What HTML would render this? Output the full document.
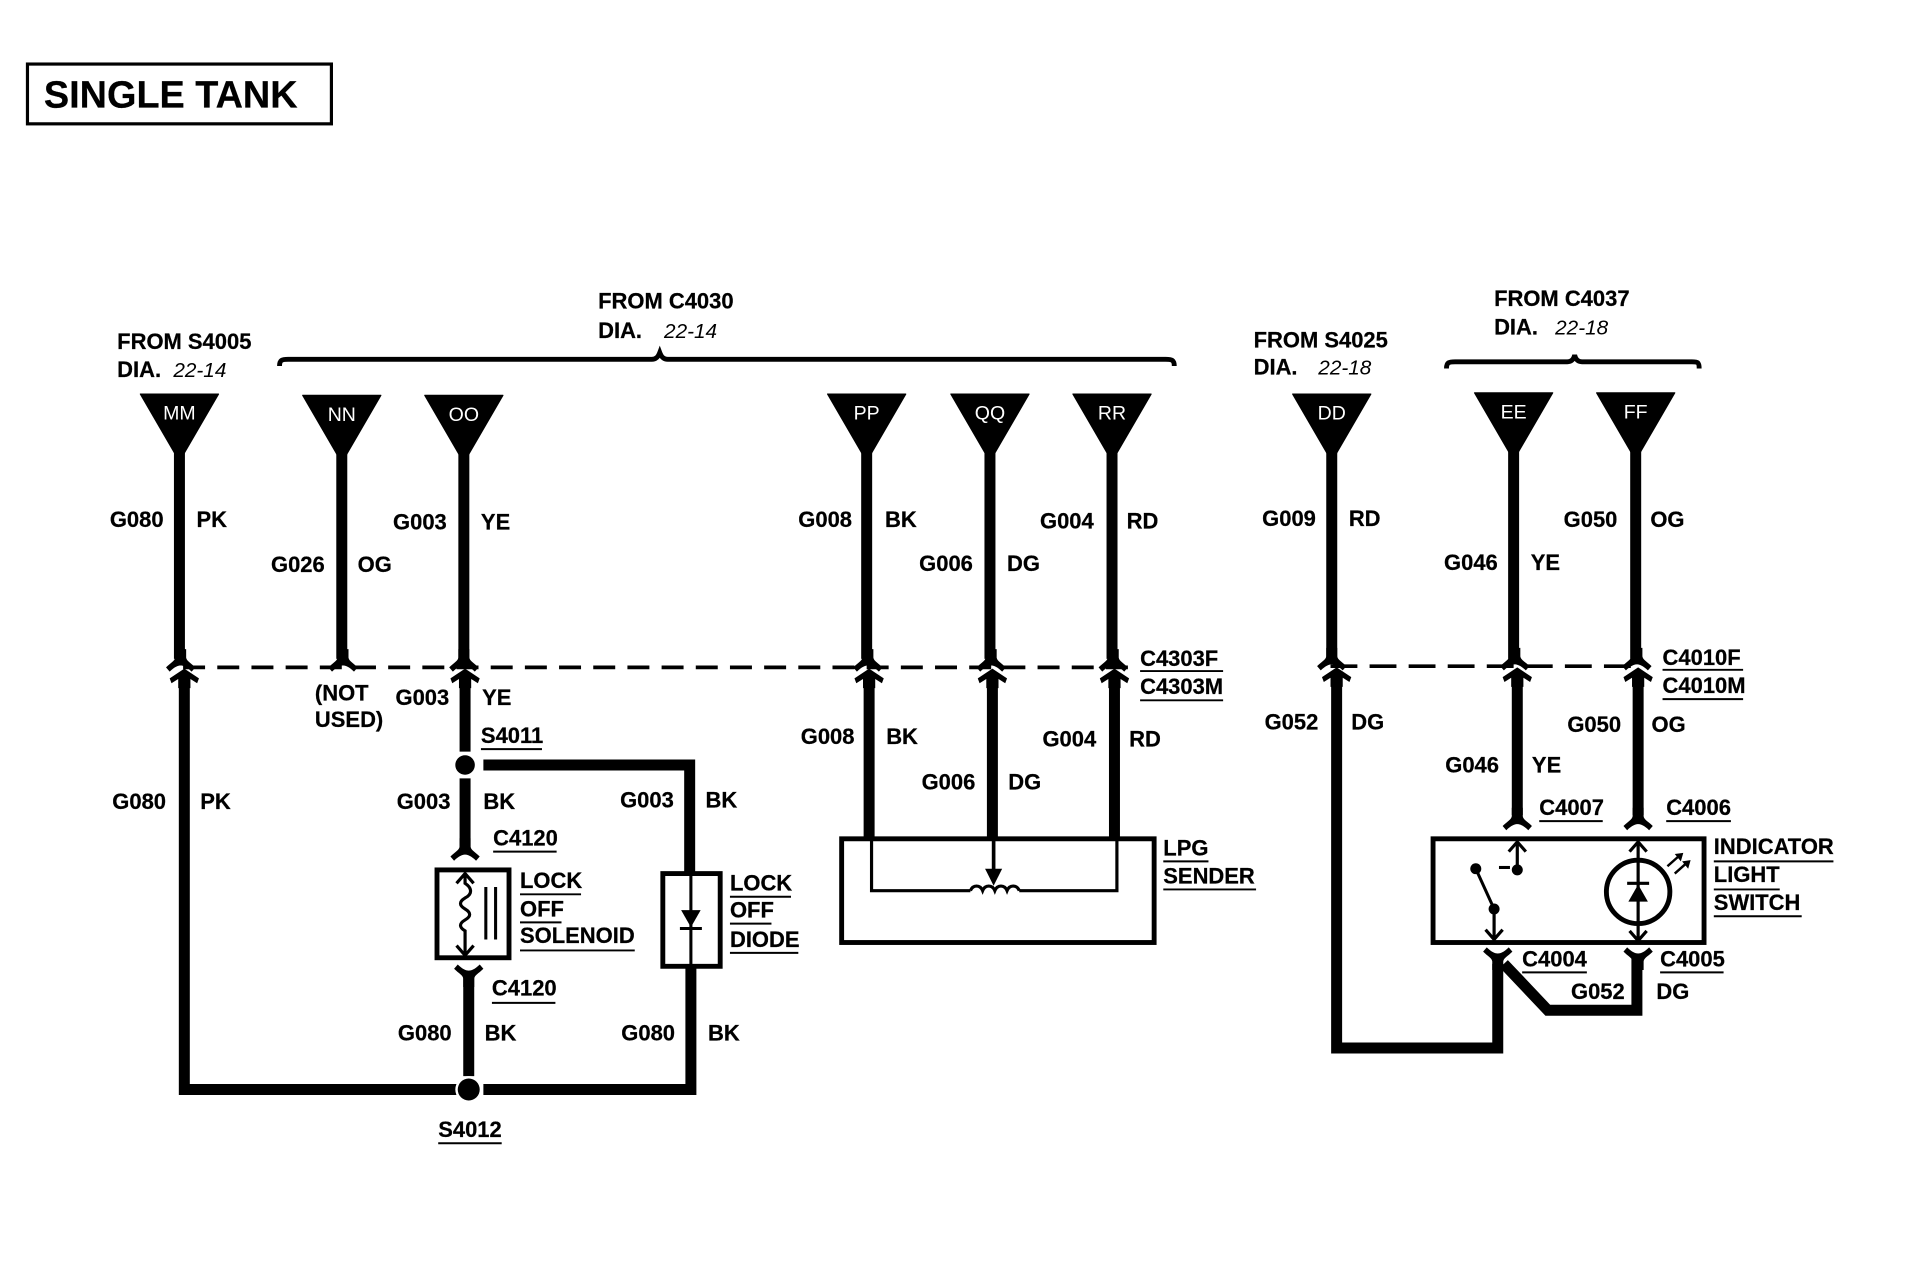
<!DOCTYPE html>
<html><head><meta charset="utf-8"><style>
html,body{margin:0;padding:0;background:#fff;width:1914px;height:1264px;overflow:hidden}
svg{display:block}
text{font-family:"Liberation Sans",sans-serif;font-weight:700;font-size:18px;fill:#000;stroke:#000;stroke-width:.2}
.i{font-style:italic;font-weight:400;font-size:17px;stroke:none}
.w{fill:#fff;stroke:none;font-weight:400;font-size:16px;text-anchor:middle}
.t{font-size:31px}
.wire{fill:none;stroke:#000;stroke-width:9;stroke-linejoin:miter}
.thin{fill:none;stroke:#000;stroke-width:2.6}
.u{fill:none;stroke:#000;stroke-width:1.6}
.box{fill:#fff;stroke:#000;stroke-width:4}
</style></head><body>
<svg width="1914" height="1264" viewBox="0 0 1568 1036" preserveAspectRatio="none" xmlns="http://www.w3.org/2000/svg">
<defs>
<path id="tri" d="M-32,0 H32 L3,50 H-3Z" fill="#000" stroke="#000" stroke-width="1" stroke-linejoin="round"/>
<path id="fork" d="M-4.5,-12 V-5 C-5,-2 -8,-1 -12,3 L-9,6.500 C-5,2.500 -2,1.500 0,1.500 C2,1.500 5,2.500 9,6.500 L12,3 C8,-1 5,-2 4.500,-5 V-12Z" fill="#000"/>
<path id="head" d="M0,-4 L12,4 L10.500,8 L5,4.500 V12 H-5 V4.500 L-10.500,8 L-12,4Z" fill="#000"/>
</defs>
<!-- title -->
<rect x="22.5" y="52.5" width="249" height="49" fill="none" stroke="#000" stroke-width="2.6"/>
<text class="t" x="36" y="88">SINGLE TANK</text>
<!-- braces -->
<path d="M229,300 C229,295 231,294.5 236,294.5 H534 C537,294.5 539,293 540.500,289 C542,293 544,294.5 547,294.5 H955 C960,294.500 962,295 962,300" fill="none" stroke="#000" stroke-width="4"/>
<path d="M1185,302 C1185,297 1187,296.500 1192,296.500 H1284 C1287,296.500 1289,295 1290,291 C1291,295 1293,296.500 1296,296.500 H1386 C1391,296.500 1392,297 1392,302" fill="none" stroke="#000" stroke-width="4"/>
<!-- triangles -->
<use href="#tri" x="147" y="323"/><use href="#tri" x="280" y="324"/><use href="#tri" x="380" y="324"/>
<use href="#tri" x="710" y="323"/><use href="#tri" x="811" y="323"/><use href="#tri" x="911" y="323"/>
<use href="#tri" x="1091" y="323"/><use href="#tri" x="1240" y="322"/><use href="#tri" x="1340" y="322"/>
<text class="w" x="147" y="344">MM</text><text class="w" x="280" y="345">NN</text><text class="w" x="380" y="345">OO</text>
<text class="w" x="710" y="344">PP</text><text class="w" x="811" y="344">QQ</text><text class="w" x="911" y="344">RR</text>
<text class="w" x="1091" y="344">DD</text><text class="w" x="1240" y="343">EE</text><text class="w" x="1340" y="343">FF</text>
<!-- dashed -->
<path d="M150,547 H930" stroke="#000" stroke-width="3" stroke-dasharray="18 10" fill="none"/>
<path d="M1090,546 H1345" stroke="#000" stroke-width="3" stroke-dasharray="22 10" fill="none"/>
<!-- upper wires -->
<g class="wire">
<path d="M147,370 V540"/><path d="M280,370 V540"/><path d="M380,370 V540"/>
<path d="M710,370 V540"/><path d="M811,370 V540"/><path d="M911,370 V540"/>
<path d="M1091,370 V540"/><path d="M1240,370 V540"/><path d="M1340,370 V540"/>
</g>
<use href="#fork" x="148" y="544"/><use href="#fork" x="281" y="544"/><use href="#fork" x="380" y="544"/>
<use href="#fork" x="711" y="544"/><use href="#fork" x="812" y="544"/><use href="#fork" x="912" y="544"/>
<use href="#fork" x="1091" y="543"/><use href="#fork" x="1241" y="543"/><use href="#fork" x="1341" y="543"/>
<use href="#head" x="151" y="552"/><use href="#head" x="381" y="552"/>
<use href="#head" x="712" y="552"/><use href="#head" x="813" y="552"/><use href="#head" x="913" y="552"/>
<use href="#head" x="1095" y="551"/><use href="#head" x="1243" y="551"/><use href="#head" x="1342" y="551"/>
<!-- lower left circuit -->
<g class="wire">
<path d="M151,558 V893 H375"/><path d="M396,893 H566 V790"/>
<path d="M381,558 V616"/><path d="M381,638 V695"/>
<path d="M396,627 H565 V718"/>
<path d="M384,800 V882"/>
<path d="M712,558 V688"/><path d="M813,558 V688"/><path d="M913,558 V688"/>
<path d="M1095,558 V859 H1227 V790"/>
<path d="M1232,790 L1268,828 H1341 V785"/>
<path d="M1243,558 V668"/><path d="M1342,558 V668"/>
</g>
<circle cx="381" cy="627" r="8" fill="#000"/>
<circle cx="384" cy="893" r="11" fill="#fff"/><circle cx="384" cy="893" r="9" fill="#000"/>
<use href="#fork" x="381" y="699"/>
<path d="M-4.500,12 V5 C-5,2 -8,1 -12,-3 L-9,-6.500 C-5,-2.500 -2,-1.500 0,-1.500 C2,-1.500 5,-2.500 9,-6.500 L12,-3 C8,1 5,2 4.500,5 V12Z" transform="translate(384,797)" fill="#000"/>
<!-- solenoid -->
<rect class="box" x="358" y="713" width="59" height="72" stroke-width="4.500"/>
<path class="thin" d="M381,716 V724 C387,728 387,733 381,736 C376,739 376,742 381,745 C386,748 386,751 381,754 C376,757 376,760 381,763 V783"/>
<path class="thin" d="M374,724 L381,716 L388,724 M374,775 L381,783 L388,775"/>
<path d="M398,727 V770 M406,727 V770" stroke="#000" stroke-width="2.500"/>
<!-- diode -->
<rect class="box" x="543" y="716" width="47" height="76"/>
<path d="M566,716 V792" stroke="#000" stroke-width="2.500"/>
<path d="M558,746 H574 L566,760Z" fill="#000"/>
<path d="M557,761 H575" stroke="#000" stroke-width="2.500"/>
<!-- LPG -->
<rect class="box" x="689.500" y="687.500" width="256" height="85"/>
<path class="thin" d="M714,689 V730 H795 M835,730 H915 V689"/>
<path class="thin" d="M795,730 C797,725 803,725 805,730 C807,725 813,725 815,730 C817,725 823,725 825,730 C827,725 833,725 835,730"/>
<path d="M814,689 V716" stroke="#000" stroke-width="3"/>
<path d="M807,712 H821 L814,726Z" fill="#000"/>
<!-- indicator -->
<rect class="box" x="1174" y="687.500" width="222" height="85"/>
<path class="thin" d="M1243,690 V713 M1236,698 L1243,690 L1250,698"/>
<circle cx="1243" cy="713" r="4.500" fill="#000"/>
<path d="M1228,711 H1237" stroke="#000" stroke-width="2.500"/>
<circle cx="1209" cy="712" r="4.500" fill="#000"/>
<path d="M1209,712 L1224,745" stroke="#000" stroke-width="2.500"/>
<circle cx="1224" cy="745" r="4.500" fill="#000"/>
<path class="thin" d="M1224,745 V770 M1217,762 L1224,770 L1231,762"/>
<circle cx="1342" cy="731" r="26" fill="none" stroke="#000" stroke-width="4"/>
<path class="thin" d="M1342,690 V771 M1335,698 L1342,690 L1349,698 M1335,763 L1342,771 L1349,763"/>
<path d="M1334,739 H1350 L1342,725Z" fill="#000"/><path d="M1333,724 H1351" stroke="#000" stroke-width="2.500"/>
<path d="M1366,710 L1375,702 M1372,716 L1381,708" stroke="#000" stroke-width="2"/>
<path d="M1372,700 L1379,699 L1377,706Z M1378,706 L1385,705 L1383,712Z" fill="#000"/>
<use href="#fork" x="1243" y="674"/><use href="#fork" x="1342" y="674"/>
<path d="M-4.500,12 V5 C-5,2 -8,1 -12,-3 L-9,-6.500 C-5,-2.500 -2,-1.500 0,-1.500 C2,-1.500 5,-2.500 9,-6.500 L12,-3 C8,1 5,2 4.500,5 V12Z" transform="translate(1227,783)" fill="#000"/>
<path d="M-4.500,12 V5 C-5,2 -8,1 -12,-3 L-9,-6.500 C-5,-2.500 -2,-1.500 0,-1.500 C2,-1.500 5,-2.500 9,-6.500 L12,-3 C8,1 5,2 4.500,5 V12Z" transform="translate(1342,783)" fill="#000"/>
<!-- labels -->
<text x="96" y="286">FROM S4005</text><text x="96" y="309">DIA.</text><text class="i" x="142" y="309">22-14</text>
<text x="490" y="253">FROM C4030</text><text x="490" y="277">DIA.</text><text class="i" x="544" y="277">22-14</text>
<text x="1027" y="285">FROM S4025</text><text x="1027" y="307">DIA.</text><text class="i" x="1080" y="307">22-18</text>
<text x="1224" y="251">FROM C4037</text><text x="1224" y="274">DIA.</text><text class="i" x="1274" y="274">22-18</text>
<text x="90" y="432">G080</text><text x="161" y="432">PK</text>
<text x="222" y="469">G026</text><text x="293" y="469">OG</text>
<text x="322" y="434">G003</text><text x="394" y="434">YE</text>
<text x="654" y="432">G008</text><text x="725" y="432">BK</text>
<text x="753" y="468">G006</text><text x="825" y="468">DG</text>
<text x="852" y="433">G004</text><text x="923" y="433">RD</text>
<text x="1034" y="431">G009</text><text x="1105" y="431">RD</text>
<text x="1183" y="467">G046</text><text x="1254" y="467">YE</text>
<text x="1281" y="432">G050</text><text x="1352" y="432">OG</text>
<text x="934" y="546">C4303F</text><text x="934" y="569">C4303M</text>
<text x="1362" y="545">C4010F</text><text x="1362" y="568">C4010M</text>
<text x="258" y="574">(NOT</text><text x="258" y="596">USED)</text>
<text x="324" y="578">G003</text><text x="395" y="578">YE</text>
<text x="394" y="609">S4011</text>
<text x="92" y="663">G080</text><text x="164" y="663">PK</text>
<text x="325" y="663">G003</text><text x="396" y="663">BK</text>
<text x="508" y="662">G003</text><text x="578" y="662">BK</text>
<text x="404" y="693">C4120</text>
<text x="426" y="728">LOCK</text><text x="426" y="751">OFF</text><text x="426" y="773">SOLENOID</text>
<text x="403" y="816">C4120</text>
<text x="598" y="730">LOCK</text><text x="598" y="752">OFF</text><text x="598" y="776">DIODE</text>
<text x="326" y="853">G080</text><text x="397" y="853">BK</text>
<text x="509" y="853">G080</text><text x="580" y="853">BK</text>
<text x="359" y="932">S4012</text>
<text x="656" y="610">G008</text><text x="726" y="610">BK</text>
<text x="755" y="647">G006</text><text x="826" y="647">DG</text>
<text x="854" y="612">G004</text><text x="925" y="612">RD</text>
<text x="953" y="701">LPG</text><text x="953" y="724">SENDER</text>
<text x="1036" y="598">G052</text><text x="1107" y="598">DG</text>
<text x="1284" y="600">G050</text><text x="1353" y="600">OG</text>
<text x="1184" y="633">G046</text><text x="1255" y="633">YE</text>
<text x="1261" y="668">C4007</text><text x="1365" y="668">C4006</text>
<text x="1404" y="700">INDICATOR</text><text x="1404" y="723">LIGHT</text><text x="1404" y="746">SWITCH</text>
<text x="1247" y="792">C4004</text><text x="1360" y="792">C4005</text>
<text x="1287" y="819">G052</text><text x="1357" y="819">DG</text>
<!-- underlines -->
<path class="u" d="M934,550 H1002 M934,574 H1002 M1362,549 H1428 M1362,573 H1428 M394,614 H444 M404,698 H456 M426,733 H476 M426,756 H460 M426,779 H520 M403,822 H455 M598,735 H648 M598,757 H632 M598,781 H654 M359,937 H411 M953,706 H990 M953,729 H1029 M1261,673 H1313 M1365,673 H1418 M1404,706 H1502 M1404,729 H1458 M1404,751 H1476 M1247,797 H1300 M1360,797 H1412"/>
</svg>
</body></html>
